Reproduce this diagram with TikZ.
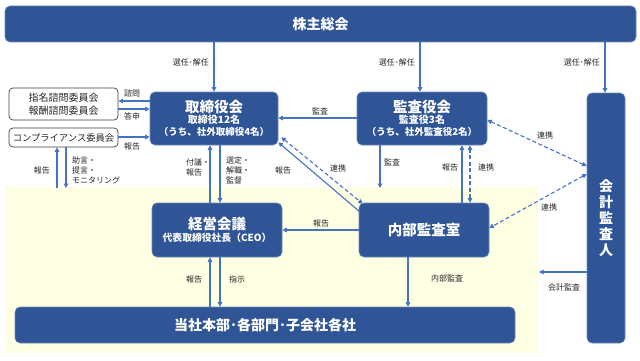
\documentclass[tikz,border=0pt]{standalone}
\usepackage{fontspec}
\setmainfont{Noto Sans CJK JP}
\usetikzlibrary{arrows.meta}
\definecolor{dblue}{HTML}{2F5597}
\definecolor{lblue}{HTML}{4472C4}
\definecolor{ybg}{HTML}{FFFFE3}
\definecolor{lbl}{HTML}{262626}
\tikzset{
  bluebox/.style={fill=dblue, draw=dblue!70!white, line width=0.6pt, rounded corners=5pt, text=white, font=\bfseries, align=center, inner sep=0pt},
  whitebox/.style={fill=white, draw=black!75, line width=0.7pt, rounded corners=4pt, text=black!85, align=center, inner sep=0pt},
  arr/.style={draw=lblue, line width=1.1pt, -{Triangle[length=4.5pt,width=4.5pt]}},
  darr/.style={draw=lblue, line width=1.1pt, dash pattern=on 4pt off 2.5pt, {Triangle[length=4.5pt,width=4.5pt]}-{Triangle[length=4.5pt,width=4.5pt]}},
  lab/.style={text=lbl, font=\fontsize{8}{10}\selectfont, inner sep=0pt, align=left},
}
\begin{document}
\begin{tikzpicture}[x=1pt, y=-1pt]
\useasboundingbox (0,0) rectangle (640,361);
\fill[white] (0,0) rectangle (640,361);
% yellow region
\fill[ybg] (5,187) rectangle (538,353);

% nodes
\node[bluebox, minimum width=631pt, minimum height=36pt, font=\bfseries\fontsize{14}{16}\selectfont] (agm) at (320.5,24) {株主総会};
\node[bluebox, minimum width=128pt, minimum height=53pt] (board) at (214,118.5) {{\fontsize{14.5}{17}\selectfont 取締役会}\\[-1pt]{\fontsize{10}{12.5}\selectfont 取締役12名}\\{\fontsize{9.5}{12}\selectfont （うち、社外取締役4名）}};
\node[bluebox, minimum width=130pt, minimum height=53pt] (kansa) at (422,118.5) {{\fontsize{14.5}{17}\selectfont 監査役会}\\[-1pt]{\fontsize{10}{12.5}\selectfont 監査役3名}\\{\fontsize{9.5}{12}\selectfont （うち、社外監査役2名）}};
\node[bluebox, minimum width=130pt, minimum height=54pt, font=\bfseries\fontsize{14.5}{17}\selectfont] (naibu) at (424,230) {内部監査室};
\node[bluebox, minimum width=130pt, minimum height=54pt] (keiei) at (217,230) {{\fontsize{14.5}{17}\selectfont 経営会議}\\{\fontsize{9.8}{12}\selectfont 代表取締役社長（CEO）}};
\node[bluebox, minimum width=500pt, minimum height=36pt, font=\bfseries\fontsize{14}{16}\selectfont] (honbu) at (265,325) {当社本部･各部門･子会社各社};
\node[bluebox, minimum width=38pt, minimum height=250pt, font=\bfseries\fontsize{14}{16}\selectfont] (kaikei) at (606,218) {会\\計\\監\\査\\人};
\node[whitebox, minimum width=109pt, minimum height=32pt, font=\fontsize{10}{12.5}\selectfont] (nom) at (63.5,104) {指名諮問委員会\\報酬諮問委員会};
\node[whitebox, minimum width=109pt, minimum height=19pt, font=\fontsize{9.3}{11}\selectfont] (comp) at (63.5,137.5) {コンプライアンス委員会};

% coordinates for free ends
\coordinate (cu) at (57,188);
\coordinate (cd) at (66,188);
\coordinate (ka) at (380,188);
\coordinate (kk) at (539,272);

% AGM arrows
\draw[arr] (board.north |- agm.south) -- (board.north);
\draw[arr] ([xshift=-2pt]kansa.north |- agm.south) -- ([xshift=-2pt]kansa.north);
\draw[arr] ([xshift=-1pt]kaikei.north |- agm.south) -- ([xshift=-1pt]kaikei.north);
\node[lab, anchor=east] (l1) at (209,62) {選任･解任};
\node[lab, anchor=east] (l2) at (415,62) {選任･解任};
\node[lab, anchor=east] (l3) at (600,62) {選任･解任};

% committees
\draw[arr] (board.west |- 0,101) -- (nom.east |- 0,101);
\draw[arr] (nom.east |- 0,109) -- (board.west |- 0,109);
\draw[arr] (comp.east |- 0,137) -- (board.west |- 0,137);
\node[lab] (l4) at (132,93) {諮問};
\node[lab] (l5) at (132,116) {答申};
\node[lab] (l6) at (132,146) {報告};
\draw[arr] (cu) -- (comp.south -| cu);
\draw[arr] (comp.south -| cd) -- (cd);
\node[lab] (l7) at (42,170) {報告};
\node[lab, anchor=west] (l8) at (72,170) {助言・\\提言・\\モニタリング};

% board <-> keiei
\draw[arr] (keiei.north -| 210,0) -- (board.south -| 210,0);
\draw[arr] (board.south -| 220,0) -- (keiei.north -| 220,0);
\node[lab, anchor=west] (l9) at (186,167) {付議・\\報告};
\node[lab, anchor=west] (l10) at (226,170) {選定・\\解職・\\監督};

% kansa -> board
\draw[arr] (kansa.west |- 0,118) -- (board.east |- 0,118);
\node[lab] (l11) at (320,111) {監査};

% diagonals board <-> naibu
\draw[arr] ([xshift=1pt,yshift=-9pt]naibu.north west) -- ([yshift=3pt]board.south east);
\draw[darr] ([xshift=3pt,yshift=8pt]board.south east) -- ([xshift=4pt,yshift=-1pt]naibu.north west);
\node[lab] (l12) at (283,170) {報告};
\node[lab] (l13) at (338,168) {連携};

% kansa <-> naibu
\draw[arr] (kansa.south -| ka) -- (ka);
\node[lab] (l14) at (392,162) {監査};
\draw[arr] (naibu.north -| 462,0) -- (kansa.south -| 462,0);
\draw[darr] (naibu.north -| 470,0) -- (kansa.south -| 470,0);
\node[lab] (l15) at (450,167) {報告};
\node[lab] (l16) at (486,167) {連携};

% kaikei links
\draw[darr] (kansa.east |- 0,120) -- (kaikei.west |- 0,166);
\draw[darr] (kaikei.west |- 0,174) -- (naibu.east |- 0,228);
\node[lab] (l17) at (545,135) {連携};
\node[lab] (l18) at (549,207) {連携};
\draw[arr] (kaikei.west |- kk) -- (kk);
\node[lab] (l19) at (564,287) {会計監査};

% naibu -> keiei
\draw[arr] (naibu.west |- 0,230) -- (keiei.east |- 0,230);
\node[lab] (l20) at (321,223) {報告};

% keiei <-> honbu
\draw[arr] (honbu.north -| 210,0) -- (keiei.south -| 210,0);
\draw[arr] (keiei.south -| 220,0) -- (honbu.north -| 220,0);
\node[lab] (l21) at (194,279) {報告};
\node[lab] (l22) at (237,279) {指示};

% naibu -> honbu
\draw[arr] (naibu.south -| 408,0) -- (honbu.north -| 408,0);
\node[lab] (l23) at (447,278) {内部監査};
\end{tikzpicture}
\end{document}
